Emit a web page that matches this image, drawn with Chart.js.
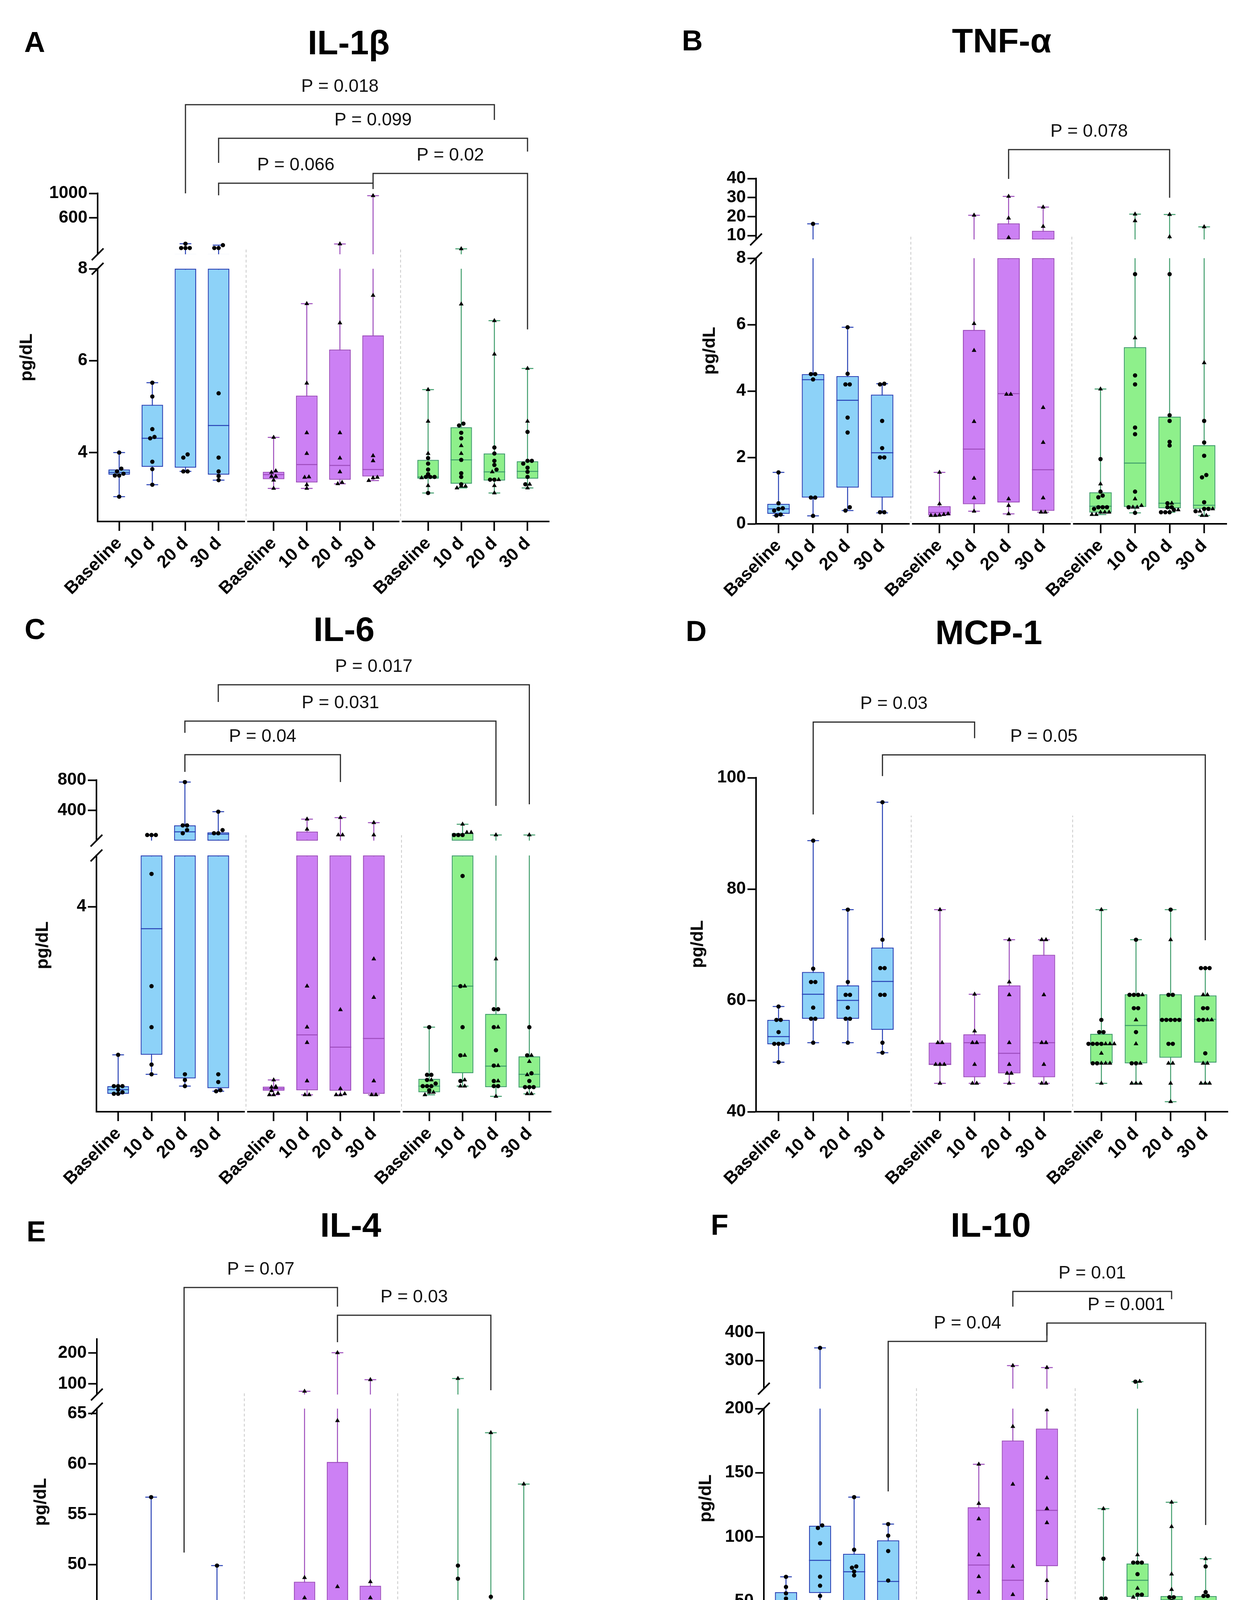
<!DOCTYPE html>
<html>
<head>
<meta charset="utf-8">
<script src="https://cdn.jsdelivr.net/npm/chart.js"></script>
<style>
  body { margin: 0; background: #fff; width: 3206px; height: 4593px; position: relative; overflow: hidden;
         font-family: "Liberation Sans", Arial, Helvetica, sans-serif; }
  canvas { position: absolute; }
  .txt { position: absolute; line-height: 1; white-space: nowrap; color: #000; }
  .b { font-weight: bold; }
  .sw { position: absolute; box-sizing: border-box; border: 4px solid; }
</style>
</head>
<body>
<script>
// categories
const timepoints = ['Baseline', '10 d', '20 d', '30 d'];
const groupNames = ['Saline (-)', 'Triamcinolone (+)', 'Neosaxitoxin'];

// every panel: 12 boxes = saline x4, triamcinolone x4, neosaxitoxin x4
// stats per box: [min, q1, median, q3, max]

// IL-1β
const il1bStats = [
  [3.04, 3.52, 3.57, 3.63, 4.0], [3.30, 3.69, 4.31, 5.04, 5.52], [3.59, 3.67, null, 9, 180], [3.40, 3.52, 4.59, 9, 157],
  [3.22, 3.42, 3.52, 3.58, 4.33], [3.22, 3.35, 3.74, 5.24, 7.24], [3.32, 3.41, 3.72, 6.24, 176], [3.39, 3.48, 3.63, 6.55, 962],
  [3.12, 3.43, 3.47, 3.84, 5.37], [3.23, 3.32, 3.84, 4.55, 97], [3.12, 3.39, 3.58, 3.98, 6.87], [3.23, 3.43, 3.59, 3.81, 5.83]
];
const il1bCircles = [
  [4.0, 3.65, 3.59, 3.54, 3.50, 3.50, 3.04], [5.52, 5.22, 4.51, 4.34, 4.31, 3.80, 3.64, 3.30],
  [180, 110, 110, 110, 3.96, 3.89, 3.59, 3.59], [157, 110, 110, 5.29, 3.89, 3.59, 3.49, 3.40],
  [], [], [], [],
  [3.88, 3.76, 3.63, 3.53, 3.47, 3.47, 3.47, 3.12], [4.63, 4.59, 4.43, 4.31, 3.84, 3.55, 3.47, 3.31],
  [4.11, 3.98, 3.82, 3.73, 3.63, 3.41, 3.41], [4.45, 3.82, 3.82, 3.76, 3.67, 3.58, 3.47, 3.31]
];
const il1bTriangles = [
  [], [], [], [],
  [4.33, 3.60, 3.57, 3.48, 3.48, 3.40, 3.22], [7.24, 5.51, 4.43, 3.98, 3.47, 3.46, 3.30, 3.22],
  [176, 6.82, 4.43, 3.88, 3.58, 3.35, 3.32], [962, 7.42, 3.93, 3.82, 3.46, 3.45, 3.39],
  [5.37, 4.68, 3.98, 3.45, 3.28], [97, 7.23, 4.15, 3.98, 3.27, 3.27, 3.23],
  [6.87, 6.14, 3.58, 3.41, 3.28, 3.12], [5.83, 4.68, 3.31, 3.23]
];
const il1bPvals = ['P = 0.018', 'P = 0.099', 'P = 0.066', 'P = 0.02'];
const il1bPairs = [[2, 10], [3, 11], [3, 7], [7, 11]];

// TNF-α
const tnfStats = [
  [0.25, 0.30, 0.45, 0.60, 1.55], [0.24, 0.79, 4.34, 4.51, 16.2], [0.40, 1.09, 3.72, 4.45, 5.92], [0.33, 0.79, 2.14, 3.89, 4.22],
  [0.25, 0.25, 0.34, 0.53, 1.55], [0.38, 0.59, 2.25, 5.84, 20.7], [0.30, 0.64, 3.92, 16.4, 30.6], [0.35, 0.39, 1.63, 12.5, 25.0],
  [0.28, 0.34, 0.53, 0.95, 4.06], [0.33, 0.51, 1.83, 5.32, 21.3], [0.35, 0.47, 0.62, 3.23, 21.1], [0.25, 0.45, 0.56, 2.37, 14.6]
];
const tnfCircles = [
  [1.55, 0.62, 0.47, 0.45, 0.40, 0.28, 0.25], [16.2, 4.51, 4.51, 4.35, 0.79, 0.79, 0.24],
  [5.92, 4.52, 4.20, 4.20, 3.20, 2.75, 0.50, 0.40], [4.22, 4.20, 3.10, 2.28, 2.00, 2.00, 0.35, 0.35],
  [], [], [], [],
  [1.95, 0.97, 0.85, 0.80, 0.50, 0.50, 0.50, 0.45], [7.52, 4.47, 4.20, 2.90, 2.70, 0.97, 0.50, 0.33],
  [7.52, 3.27, 3.10, 2.47, 2.36, 0.62, 0.50, 0.50, 0.42, 0.35, 0.35, 0.35], [3.10, 2.45, 2.05, 1.47, 1.40, 0.65, 0.45, 0.45, 0.38]
];
const tnfTriangles = [
  [], [], [], [],
  [1.55, 0.60, 0.30, 0.28, 0.26, 0.25, 0.25], [20.7, 6.03, 5.22, 3.08, 1.37, 0.78, 0.38],
  [30.6, 19.2, 9.0, 3.90, 3.90, 0.75, 0.55, 0.30], [25.0, 14.8, 3.50, 2.45, 0.78, 0.35, 0.35],
  [4.06, 1.20, 0.35, 0.35, 0.35, 0.28, 0.28], [21.3, 17.8, 5.60, 0.75, 0.55, 0.50, 0.50],
  [21.1, 9.4, 0.62, 0.42], [14.6, 4.85, 0.45, 0.38, 0.25, 0.25]
];
const tnfPvals = ['P = 0.078'];
const tnfPairs = [[6, 10]];

// IL-6
const il6Stats = [
  [0.35, 0.35, 0.43, 0.50, 1.11], [0.73, 1.11, 3.57, 5.5, 79], [0.50, 0.65, 120, 205, 774], [0.40, 0.46, 90, 113, 385],
  [0.33, 0.41, 0.45, 0.49, 0.62], [0.33, 0.42, 1.50, 123, 287], [0.33, 0.41, 1.26, 5.5, 307], [0.33, 0.35, 1.43, 5.5, 241],
  [0.33, 0.38, 0.50, 0.64, 1.65], [0.50, 0.75, 2.45, 102, 220], [0.30, 0.48, 0.89, 1.91, 79], [0.35, 0.47, 0.73, 1.08, 79]
];
const il6Circles = [
  [1.11, 0.50, 0.50, 0.50, 0.43, 0.38, 0.35, 0.35], [79, 79, 79, 4.64, 2.45, 1.65, 0.92, 0.73],
  [774, 205, 205, 143, 102, 0.73, 0.62, 0.50], [385, 143, 102, 102, 0.73, 0.58, 0.42, 0.40],
  [], [], [], [],
  [1.65, 0.72, 0.72, 0.62, 0.55, 0.50, 0.50, 0.50, 0.42], [79, 79, 79, 4.60, 2.45, 1.65, 1.10, 0.60],
  [2.00, 2.00, 1.65, 1.20, 0.90, 0.60, 0.50, 0.50], [1.65, 1.10, 0.75, 0.60, 0.48, 0.48, 0.48]
];
const il6Triangles = [
  [], [], [], [],
  [0.62, 0.49, 0.48, 0.47, 0.41, 0.36, 0.33, 0.33], [287, 154, 2.45, 1.65, 1.35, 0.60, 0.33, 0.33],
  [307, 79, 79, 1.99, 0.45, 0.35, 0.33, 0.33], [241, 79, 2.98, 2.23, 0.60, 0.33, 0.33],
  [0.62, 0.38, 0.38, 0.33], [220, 113, 113, 2.45, 1.10, 0.62, 0.50, 0.50],
  [79, 2.98, 1.65, 0.90, 0.60, 0.30], [79, 1.10, 0.98, 0.72, 0.35, 0.35]
];
const il6Pvals = ['P = 0.017', 'P = 0.031', 'P = 0.04'];
const il6Pairs = [[3, 11], [2, 10], [2, 6]];

// MCP-1
const mcpStats = [
  [48.9, 52.1, 53.5, 56.5, 58.9], [52.4, 56.7, 61.1, 65.1, 88.7], [52.4, 56.7, 60.0, 62.7, 76.3], [50.6, 54.7, 63.4, 69.5, 95.6],
  [45.1, 48.5, 48.5, 52.4, 76.3], [45.1, 46.2, 52.4, 53.9, 61.1], [45.1, 46.9, 50.5, 62.7, 70.9], [45.1, 46.2, 52.4, 68.2, 70.9],
  [45.1, 48.7, 52.1, 54.0, 76.3], [45.1, 48.7, 55.5, 61.1, 70.9], [41.8, 49.7, 56.6, 61.1, 76.3], [45.1, 48.8, 56.6, 60.9, 65.8]
];
const mcpCircles = [
  [58.9, 56.5, 56.5, 54.3, 52.2, 52.2, 52.2, 48.9], [88.7, 65.7, 63.3, 63.3, 58.7, 56.7, 56.7, 52.4],
  [76.3, 63.3, 61.0, 61.0, 58.7, 56.7, 56.7, 52.4], [95.6, 70.9, 65.8, 65.8, 61.0, 61.0, 52.4, 50.6],
  [], [], [], [],
  [56.5, 54.3, 54.3, 52.2, 52.2, 52.2, 52.2, 48.7, 48.7], [70.9, 61.0, 61.0, 61.0, 58.6, 58.6, 54.3, 48.7, 48.7],
  [76.3, 61.0, 61.0, 56.5, 56.5, 56.5, 56.5, 56.5, 52.2, 52.2], [65.8, 65.8, 65.8, 58.6, 58.6, 56.5, 56.5, 50.5]
];
const mcpTriangles = [
  [], [], [], [],
  [76.3, 52.4, 52.4, 48.5, 48.5, 48.5, 45.1], [61.1, 54.5, 52.4, 52.4, 48.5, 45.1, 45.1],
  [70.9, 63.3, 61.0, 52.4, 48.5, 46.9, 46.9, 45.1], [70.9, 70.9, 61.0, 52.4, 52.4, 48.5, 45.1, 45.1],
  [76.3, 52.2, 52.2, 52.2, 50.5, 48.7, 48.7, 48.7, 45.1], [61.0, 56.5, 52.2, 48.7, 45.1, 45.1, 45.1],
  [70.9, 48.7, 48.7, 45.1, 41.8], [61.0, 61.0, 56.5, 56.5, 48.7, 48.7, 45.1, 45.1, 45.1]
];
const mcpPvals = ['P = 0.03', 'P = 0.05'];
const mcpPairs = [[1, 5], [3, 11]];

// IL-4
const il4Stats = [
  [41.2, 41.2, 41.4, 41.9, 43.0], [40.3, 42.1, 43.9, 45.0, 56.7], [40.8, 42.1, 43.4, 45.6, 45.9], [41.2, 42.0, 43.85, 44.6, 49.9],
  [40.3, 41.1, 41.6, 42.0, 43.0], [41.2, 41.7, 43.9, 48.3, 76], [40.3, 40.9, 41.6, 60.2, 200.8], [40.3, 41.3, 41.6, 47.9, 113.5],
  [40.3, 41.1, 41.7, 42.0, 44.8], [40.3, 41.9, 43.0, 45.45, 117.3], [41.2, 41.6, 42.7, 43.0, 63.1], [40.3, 41.1, 41.6, 42.9, 58.0]
];
const il4Circles = [
  [43.0, 41.5, 41.3, 41.25, 41.2, 41.2], [56.7, 45.0, 45.0, 43.0, 42.1, 42.1, 40.3],
  [45.9, 45.9, 45.1, 43.5, 43.5, 42.1, 42.1, 40.8], [49.9, 44.9, 43.9, 43.9, 42.0, 42.0, 41.2],
  [], [], [], [],
  [43.0, 42.0, 42.0, 42.0, 42.0, 42.0, 41.6, 41.6, 41.2, 41.2], [49.9, 48.6, 44.3, 43.9, 43.0, 43.0, 41.2, 40.3],
  [46.8, 43.9, 42.9, 42.9, 42.9, 42.0, 42.0, 42.0, 42.0, 41.4], [43.9, 42.9, 42.9, 42.9, 42.9, 42.0, 42.0]
];
const il4Triangles = [
  [], [], [], [],
  [43.0, 42.0, 42.0, 41.6, 41.2, 41.2, 40.3], [76, 48.7, 46.7, 44.9, 43.0, 43.0, 41.2, 41.2],
  [200.8, 64.3, 47.8, 42.0, 41.2, 40.5, 40.5, 40.3], [113.5, 48.3, 46.7, 42.0, 41.2, 41.2, 40.3],
  [44.8, 41.2, 41.2, 41.2, 40.3], [117.3, 45.8, 42.0, 41.2, 40.8],
  [63.1, 41.4, 41.2], [58.0, 41.2, 41.2, 41.2, 41.2, 40.3]
];
const il4Pvals = ['P = 0.07', 'P = 0.03'];
const il4Pairs = [[2, 6], [6, 10]];

// IL-10
const il10Stats = [
  [5.4, 22.8, 42.8, 56.9, 68.9], [21, 56.3, 81.7, 108.7, 345], [39, 49.4, 72.8, 86.8, 131], [28, 40.4, 65.3, 97.3, 110],
  [4.5, 6.9, 9.0, 11.4, 27.8], [21, 46.4, 78.1, 123.1, 156.6], [23, 30.8, 66.2, 175.1, 282], [50, 77.2, 120.7, 184.4, 275],
  [6, 10.5, 18.9, 47.9, 122], [14, 53.3, 66.2, 79.3, 225], [16, 28.4, 50.9, 53.9, 127], [13, 26.9, 46.7, 53.9, 83]
];
const il10Circles = [
  [68.9, 61, 56, 52, 32, 22, 5.4], [345, 109, 107, 95, 69, 62, 54, 21],
  [131, 90, 77, 76, 73, 70, 42, 39], [110, 101, 89, 66, 49, 37, 28],
  [], [], [], [],
  [83, 52, 52, 32, 18, 13, 10, 10], [225, 80, 80, 80, 71, 55, 55, 31],
  [53, 53, 50, 43, 31, 31], [77, 57, 54, 54, 46, 38, 30]
];
const il10Triangles = [
  [], [], [], [],
  [27.8, 12, 12, 12, 7.5, 6, 6, 4.5], [156.6, 126, 114, 86, 69, 57, 42, 21],
  [282, 186, 141, 77, 55, 37, 23], [275, 199, 146, 122, 111, 66, 50],
  [122, 47, 28, 18, 13, 10, 10, 6], [226, 86, 60, 53, 14],
  [127, 108, 71, 59, 22, 16], [83, 43, 20, 13]
];
const il10Pvals = ['P = 0.01', 'P = 0.001', 'P = 0.04'];
const il10Pairs = [[6, 10], [7, 11], [3, 7]];

// ---- look ----
Chart.defaults.font.family = '"Liberation Sans", Arial, Helvetica, sans-serif';
Chart.defaults.color = '#000';
const fills = ['#8dd2f8', '#cc80f4', '#8ef08b'];
const lines = ['#2841b5', '#9d4cbc', '#3f9d6b'];
const X_MIN = -0.65, X_MAX = 12.97, GROUP_GAP = 1.66, BOX_W = 0.65;
const Y_AXIS_W = 150, X_AXIS_H = 200;

function xPos(i) { return (i % 4) + Math.floor(i / 4) * (3 + GROUP_GAP); }
const xTicks = timepoints.concat(timepoints, timepoints).map((t, i) => xPos(i));
const separators = [(xPos(3) + xPos(4)) / 2, (xPos(7) + xPos(8)) / 2];

// layout of the six panels (page pixels), broken y axes as bottom / top segments
const panels = [
  { id: 'A', title: 'IL-1β', stats: il1bStats, circles: il1bCircles, triangles: il1bTriangles, pvals: il1bPvals, pairs: il1bPairs,
    canvas: [0, 0, 1600, 1560], area: [250, 495, 1406, 1335], letterAt: [62, 71], titleAt: [893, 65], unitAt: [66, 915],
    top: { min: 8, max: 1000, ticks: [600, 1000], px: 156 }, gap: 37,
    bottom: { min: 2.5, max: 8, ticks: [4, 6, 8], px: 647 },
    sepTop: 116, brackets: [[2443, 1000, 2195], [1897, 1496, 1680], [1165, 968, 1070], [1324, 1165, 6.68]] },
  { id: 'B', title: 'TNF-α', stats: tnfStats, circles: tnfCircles, triangles: tnfTriangles, pvals: tnfPvals, pairs: tnfPairs,
    canvas: [1600, 0, 1606, 1560], area: [1936, 457, 3141, 1341], letterAt: [1746, 67], titleAt: [2565, 60], unitAt: [1815, 898],
    top: { min: 8, max: 40, ticks: [10, 20, 30, 40], px: 156 }, gap: 48,
    bottom: { min: 0, max: 8, ticks: [0, 2, 4, 6, 8], px: 680 },
    sepTop: 9.8, brackets: [[55.2, 39.8, 29.9]] },
  { id: 'C', title: 'IL-6', stats: il6Stats, circles: il6Circles, triangles: il6Triangles, pvals: il6Pvals, pairs: il6Pairs,
    canvas: [0, 1560, 1600, 1520], area: [247, 1997, 1411, 2846], letterAt: [63, 1574], titleAt: [881, 1567], unitAt: [107, 2420],
    top: { min: 5, max: 800, ticks: [400, 800], px: 155 }, gap: 38,
    bottom: { min: 0, max: 5, ticks: [4], px: 656 },
    sepTop: 77, brackets: [[2051, 1826, 482], [1574, 1421, 461], [1133, 908, 774]] },
  { id: 'D', title: 'MCP-1', stats: mcpStats, circles: mcpCircles, triangles: mcpTriangles, pvals: mcpPvals, pairs: mcpPairs,
    canvas: [1600, 1560, 1606, 1520], area: [1936, 1991, 3144, 2846], letterAt: [1756, 1579], titleAt: [2532, 1575], unitAt: [1784, 2417],
    top: null, gap: 0,
    bottom: { min: 40, max: 100, ticks: [40, 60, 80, 100], px: 855 },
    sepTop: 93.2, brackets: [[110.0, 93.4, 107.1], [104.1, 100.3, 70.8]] },
  { id: 'E', title: 'IL-4', stats: il4Stats, circles: il4Circles, triangles: il4Triangles, pvals: il4Pvals, pairs: il4Pairs,
    canvas: [0, 3080, 1600, 1390], area: [248, 3428, 1396, 4263], letterAt: [68, 3116], titleAt: [898, 3092], unitAt: [102, 3845],
    top: { min: 65.5, max: 245, ticks: [100, 200], px: 142 }, gap: 36,
    bottom: { min: 40, max: 65.5, ticks: [40, 45, 50, 55, 60, 65], px: 657 },
    sepTop: 75.6, brackets: [[411.9, 51.2, 349.9], [322.1, 234.9, 79.4]] },
  { id: 'F', title: 'IL-10', stats: il10Stats, circles: il10Circles, triangles: il10Triangles, pvals: il10Pvals, pairs: il10Pairs,
    canvas: [1600, 3080, 1606, 1390], area: [1956, 3411, 3144, 4263], letterAt: [1820, 3099], titleAt: [2537, 3092], unitAt: [1805, 3836],
    top: { min: 200, max: 400, ticks: [300, 400], px: 144 }, gap: 51,
    bottom: { min: 0, max: 200, ticks: [0, 50, 100, 150, 200], px: 657 },
    sepTop: 204, brackets: [[545.8, 491.7, 518], [433.3, 388.9, 109.3], [368.1, 135.5, 433.3]] }
];

// points with (nearly) the same value sit side by side, like a scatter dot plot
function swarm(pts, tol, step) {
  const sorted = pts.slice().sort((a, b) => a.v - b.v);
  const rows = [];
  sorted.forEach(pt => {
    const row = rows[rows.length - 1];
    if (row && pt.v - row[0].v <= tol) row.push(pt); else rows.push([pt]);
  });
  rows.forEach(row => row.forEach((pt, k) => { pt.dx = (k - (row.length - 1) / 2) * step; }));
  return sorted;
}

function buildDatasets(p) {
  const pxX = (p.area[2] - p.area[0]) / (X_MAX - X_MIN);
  const halfBox = chart => chart.scales.x.getPixelForValue(BOX_W / 2) - chart.scales.x.getPixelForValue(0);
  const segs = [{ axis: 'yb', seg: p.bottom, has: v => v <= p.bottom.max }];
  if (p.top) segs.push({ axis: 'yt', seg: p.top, has: v => v > p.bottom.max });
  const out = [];
  segs.forEach(({ axis, seg, has }) => {
    const clamp = v => Math.min(seg.max, Math.max(seg.min, v));
    const tol = 9 * (seg.max - seg.min) / seg.px;
    for (let g = 0; g < 3; g++) {
      const whisk = [], box = [], mids = [], caps = [], dots = [], tris = [];
      for (let k = 0; k < 4; k++) {
        const i = g * 4 + k, x = xPos(i);
        const [mn, q1, md, q3, mx] = p.stats[i];
        if (mx > seg.min && mn < seg.max) whisk.push({ x, y: [clamp(mn), clamp(mx)] });
        if (q3 > seg.min && q1 < seg.max) box.push({ x, y: [clamp(q1), clamp(q3)] });
        if (md !== null && has(md)) mids.push({ x, y: md });
        [mn, mx].forEach(v => { if (has(v)) caps.push({ x, y: v }); });
        const pts = p.circles[i].map(v => ({ v, s: 'c' }))
          .concat(p.triangles[i].map(v => ({ v, s: 't' })))
          .filter(o => has(o.v));
        swarm(pts, tol, 11 / pxX).forEach(o => (o.s === 'c' ? dots : tris).push({ x: x + o.dx, y: o.v }));
      }
      out.push({ type: 'bar', yAxisID: axis, data: whisk, backgroundColor: lines[g], borderWidth: 0,
        barPercentage: 2.5 / pxX, categoryPercentage: 1, grouped: false, order: 6 });
      out.push({ type: 'bar', yAxisID: axis, data: box, backgroundColor: fills[g], borderColor: lines[g], borderWidth: 2.5,
        borderSkipped: false, barPercentage: BOX_W, categoryPercentage: 1, grouped: false, order: 5 });
      out.push({ type: 'scatter', yAxisID: axis, data: mids, pointStyle: 'line', pointRadius: ctx => halfBox(ctx.chart),
        pointBorderColor: lines[g], pointBorderWidth: 2.5, order: 4 });
      out.push({ type: 'scatter', yAxisID: axis, data: caps, pointStyle: 'line', pointRadius: 15,
        pointBorderColor: lines[g], pointBorderWidth: 2.5, order: 3 });
      out.push({ type: 'scatter', yAxisID: axis, data: dots, pointStyle: 'circle', pointRadius: 5.5,
        pointBackgroundColor: '#000', pointBorderWidth: 0, order: 1 });
      out.push({ type: 'scatter', yAxisID: axis, data: tris, pointStyle: 'triangle', pointRadius: 7,
        pointBackgroundColor: '#000', pointBorderWidth: 0, order: 1 });
    }
  });
  return out;
}

function yScale(seg, extra) {
  return Object.assign({
    type: 'linear', position: 'left', min: seg.min, max: seg.max,
    afterBuildTicks: s => { s.ticks = seg.ticks.map(v => ({ value: v })); },
    afterFit: s => { s.width = Y_AXIS_W; },
    ticks: { autoSkip: false, padding: 4, color: '#000', font: { size: 44, weight: 'bold' }, callback: v => String(v) },
    grid: { display: true, drawOnChartArea: false, drawTicks: true, tickLength: 22, tickWidth: 4, tickColor: '#000' },
    border: { display: true, color: '#000', width: 4 }
  }, extra);
}

function makeDecor(p) {
  const yPx = (chart, v) => (p.top && v > p.bottom.max ? chart.scales.yt : chart.scales.yb).getPixelForValue(v);
  return {
    id: 'decor' + p.id,
    beforeDatasetsDraw(chart) {
      const ctx = chart.ctx, xs = chart.scales.x, a = chart.chartArea;
      ctx.save();
      ctx.strokeStyle = '#c8c8c8'; ctx.lineWidth = 2; ctx.setLineDash([7, 6]);
      separators.forEach(s => {
        const x = xs.getPixelForValue(s);
        ctx.beginPath(); ctx.moveTo(x, a.bottom); ctx.lineTo(x, yPx(chart, p.sepTop)); ctx.stroke();
      });
      ctx.restore();
    },
    afterDraw(chart) {
      const ctx = chart.ctx, xs = chart.scales.x, a = chart.chartArea;
      ctx.save();
      // small breaks in the x axis between groups
      ctx.fillStyle = '#fff';
      separators.forEach(s => { const x = xs.getPixelForValue(s); ctx.fillRect(x - 3, a.bottom - 5, 6, 10); });
      // axis break marks
      ctx.strokeStyle = '#000'; ctx.lineWidth = 4;
      if (p.top) {
        [chart.scales.yt.bottom, chart.scales.yb.top].forEach(y => {
          ctx.beginPath(); ctx.moveTo(a.left - 15, y + 15); ctx.lineTo(a.left + 15, y - 15); ctx.stroke();
        });
      }
      // comparison brackets
      ctx.strokeStyle = '#2b2b2b'; ctx.lineWidth = 3;
      ctx.fillStyle = '#111'; ctx.textAlign = 'center'; ctx.textBaseline = 'middle';
      ctx.font = '46px "Liberation Sans", Arial, sans-serif';
      p.pairs.forEach(([i, j], k) => {
        const [bar, le, re] = p.brackets[k];
        const xa = xs.getPixelForValue(xPos(i)), xb = xs.getPixelForValue(xPos(j)), yb = yPx(chart, bar);
        ctx.beginPath();
        ctx.moveTo(xa, yPx(chart, le)); ctx.lineTo(xa, yb); ctx.lineTo(xb, yb); ctx.lineTo(xb, yPx(chart, re));
        ctx.stroke();
        ctx.fillText(p.pvals[k], (xa + xb) / 2, yb - 46);
      });
      ctx.restore();
    }
  };
}

function addText(txt, cls, style) {
  const d = document.createElement('div');
  d.className = 'txt ' + cls;
  d.textContent = txt;
  Object.assign(d.style, style);
  document.body.appendChild(d);
}

panels.forEach(p => {
  const [cx, cy, cw, ch] = p.canvas;
  const [al, at, ar, ab] = p.area;
  const cv = document.createElement('canvas');
  cv.width = cw; cv.height = ch;
  Object.assign(cv.style, { left: cx + 'px', top: cy + 'px', width: cw + 'px', height: ch + 'px' });
  document.body.appendChild(cv);

  const scales = {
    x: {
      type: 'linear', min: X_MIN, max: X_MAX, offset: false,
      afterBuildTicks: s => { s.ticks = xTicks.map(v => ({ value: v })); },
      afterFit: s => { s.height = X_AXIS_H; },
      ticks: { autoSkip: false, minRotation: 45, maxRotation: 45, padding: 6, color: '#000',
               font: { size: 45, weight: 'bold' }, callback: (v, i) => timepoints[i % 4] },
      grid: { display: true, drawOnChartArea: false, drawTicks: true, tickLength: 24, tickWidth: 4, tickColor: '#000', offset: false },
      border: { display: true, color: '#000', width: 4 }
    }
  };
  if (p.top) {
    scales.yt = yScale(p.top, { stack: 'y', stackWeight: p.top.px, weight: 3 });
    scales.yg = { type: 'linear', position: 'left', stack: 'y', stackWeight: p.gap, weight: 2, min: 0, max: 1,
      afterFit: s => { s.width = Y_AXIS_W; }, ticks: { display: false }, grid: { display: false }, border: { display: false } };
    scales.yb = yScale(p.bottom, { stack: 'y', stackWeight: p.bottom.px, weight: 1 });
  } else {
    scales.yb = yScale(p.bottom, {});
  }

  new Chart(cv, {
    type: 'bar',
    data: { datasets: buildDatasets(p) },
    options: {
      responsive: false, animation: false, devicePixelRatio: 1, events: [],
      layout: { padding: { left: al - cx - Y_AXIS_W, right: cx + cw - ar, top: at - cy, bottom: cy + ch - ab - X_AXIS_H } },
      plugins: { legend: { display: false }, tooltip: { enabled: false } },
      scales
    },
    plugins: [makeDecor(p)]
  });

  addText(p.id, 'b', { left: p.letterAt[0] + 'px', top: p.letterAt[1] + 'px', fontSize: '74px' });
  addText(p.title, 'b', { left: p.titleAt[0] + 'px', top: p.titleAt[1] + 'px', fontSize: '88px', transform: 'translateX(-50%)' });
  addText('pg/dL', 'b', { left: p.unitAt[0] + 'px', top: p.unitAt[1] + 'px', fontSize: '45px',
    transform: 'translate(-50%, -50%) rotate(-90deg)' });
});

// shared legend
const legendSwatchX = [670, 1183, 2000];
const legendTextX = [814, 1330, 2146];
groupNames.forEach((name, g) => {
  const sw = document.createElement('div');
  sw.className = 'sw';
  Object.assign(sw.style, { left: legendSwatchX[g] + 'px', top: '4480px', width: '93px', height: '51px',
    background: fills[g], borderColor: lines[g] });
  document.body.appendChild(sw);
  addText(name, '', { left: legendTextX[g] + 'px', top: '4472px', fontSize: '69px' });
});
</script>
